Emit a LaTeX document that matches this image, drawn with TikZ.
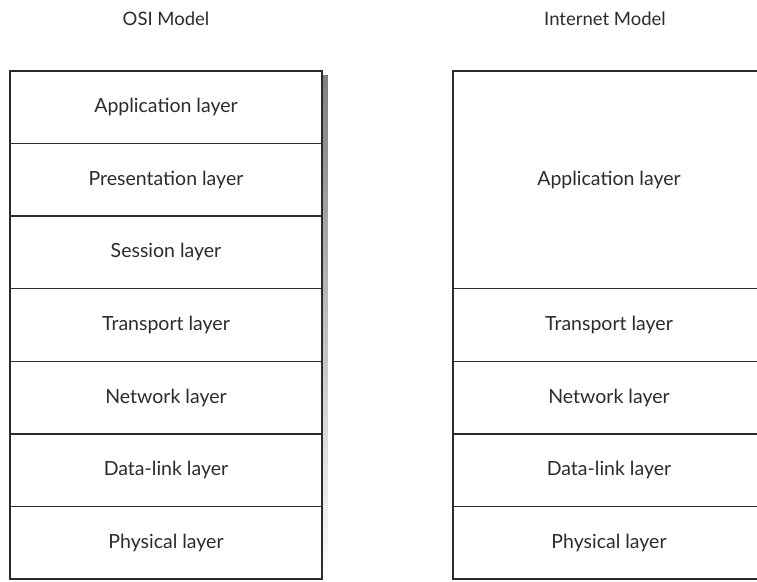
\documentclass[tikz,border=0pt]{standalone}
\usepackage{fontspec}
\setmainfont{Lato}
\definecolor{ink}{HTML}{2B2B2B}
\definecolor{shade}{HTML}{D4D4D4}
\begin{document}
\begin{tikzpicture}[x=1pt,y=1pt,
  layer/.style={draw=ink,line width=1.3pt,minimum width=312pt,minimum height=72.57pt,inner sep=0pt,text=ink,font=\fontsize{19.5}{22}\selectfont},
  title/.style={text=ink,font=\fontsize{18.5}{22}\selectfont}]
\useasboundingbox (0,0) rectangle (757,-581);
\clip (0,0) rectangle (757,-581);
\fill[shade] (321,-75) rectangle (327.5,-580);
% OSI model
\node[title] (osit) at (166,-19) {OSI Model};
\node[layer] (o1) at (166,-107.3) {Application layer};
\node[layer] (o2) at (166,-179.9) {Presentation layer};
\node[layer] (o3) at (166,-252.4) {Session layer};
\node[layer] (o4) at (166,-325.0) {Transport layer};
\node[layer] (o5) at (166,-397.6) {Network layer};
\node[layer] (o6) at (166,-470.1) {Data-link layer};
\node[layer] (o7) at (166,-542.7) {Physical layer};
% Internet model
\node[title] (intt) at (605,-19) {Internet Model};
\node[layer,minimum height=217.7pt] (i1) at (609,-179.9) {Application layer};
\node[layer] (i2) at (609,-325.0) {Transport layer};
\node[layer] (i3) at (609,-397.6) {Network layer};
\node[layer] (i4) at (609,-470.1) {Data-link layer};
\node[layer] (i5) at (609,-542.7) {Physical layer};
\end{tikzpicture}
\end{document}
